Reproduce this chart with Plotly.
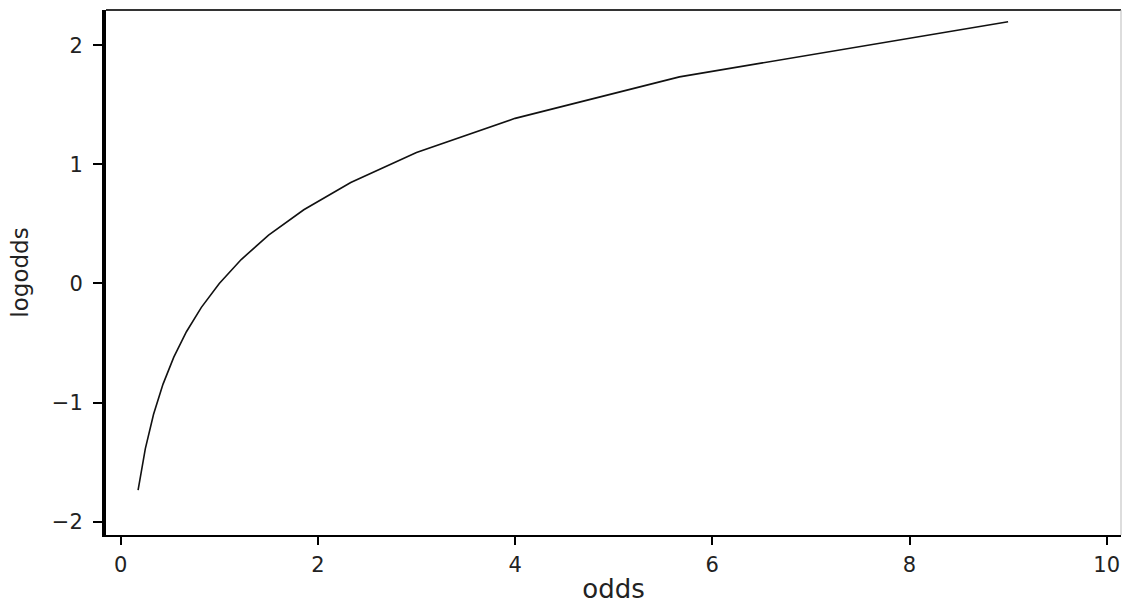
import plotly.graph_objects as go

odds = [0.1765, 0.25, 0.3333, 0.4286, 0.5385, 0.6667, 0.8182, 1.0, 1.2222,
        1.5, 1.8571, 2.3333, 3.0, 4.0, 5.6667, 9.0]
logodds = [-1.7346, -1.3863, -1.0986, -0.8473, -0.6190, -0.4055, -0.2007, 0.0,
           0.2007, 0.4055, 0.6190, 0.8473, 1.0986, 1.3863, 1.7346, 2.1972]
x_ticks = [0, 2, 4, 6, 8, 10]
y_ticks = [-2, -1, 0, 1, 2]

fig = go.Figure(go.Scatter(x=odds, y=logodds, mode="lines",
                           line=dict(color="#111", width=1.6), showlegend=False))

fam = "DejaVu Sans, sans-serif"
tick_font = dict(family=fam, size=21, color="#222")

fig.update_layout(
    width=1122, height=604,
    margin=dict(l=106, r=1, t=10, b=69),
    paper_bgcolor="white", plot_bgcolor="white",
    font=tick_font,
    xaxis=dict(range=[-0.149, 10.145], tickvals=x_ticks, ticks="outside", ticklen=8,
               tickwidth=2, tickcolor="black", showline=True, linecolor="black", linewidth=2,
               showgrid=False, zeroline=False, tickfont=tick_font,
               title=dict(text="odds", standoff=9, font=dict(family=fam, size=26, color="#222")),
               ticklabelstandoff=2, automargin=False),
    yaxis=dict(range=[-2.112, 2.296], tickvals=y_ticks, ticks="outside", ticklen=9,
               tickwidth=2, tickcolor="black", showline=True, linecolor="black", linewidth=4,
               showgrid=False, zeroline=False, tickfont=tick_font,
               title=dict(text="logodds", standoff=18, font=dict(family=fam, size=23, color="#222")),
               ticklabelstandoff=6, automargin=False),
    shapes=[
        dict(type="line", xref="paper", yref="paper", x0=0, x1=1, y0=1, y1=1,
             line=dict(color="#333", width=2)),
        dict(type="line", xref="paper", yref="paper", x0=1, x1=1, y0=0, y1=1,
             line=dict(color="#bbb", width=1)),
    ],
)

fig.write_html("out.html", config={"displayModeBar": False},
               post_script="document.body.style.margin='0px';")
